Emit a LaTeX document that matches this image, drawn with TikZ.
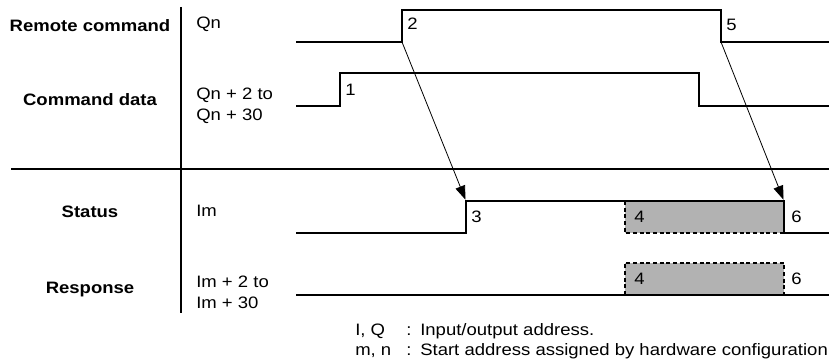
\documentclass[tikz,border=0pt]{standalone}
\usepackage{fontspec}
\setmainfont{Liberation Sans}[FakeStretch=1.12]
\usetikzlibrary{arrows.meta}

\begin{document}
\begin{tikzpicture}[x=0.75pt,y=-0.75pt,
  wave/.style={line width=1.35pt},
  rule/.style={line width=1.35pt},
  signame/.style={font=\bfseries,anchor=base,inner sep=0pt},
  addr/.style={anchor=base west,inner sep=0pt},
  tick/.style={anchor=base west,inner sep=0pt},
  cue/.style={line width=0.6pt,shorten >=1pt,-{Triangle[length=10.5pt,width=7.5pt]}},
  busyfill/.style={fill=black!30},
  busyedge/.style={line width=1pt,dash pattern=on 3pt off 2pt}]
\useasboundingbox (0,0) rectangle (834,363);
\fontsize{12.4}{15}\selectfont
% Table rules
\draw[rule] (181,7) -- (181,313);
\draw[rule] (11,169) -- (829,169);
% Signal names
\node[signame] (rq) at (90,32) {Remote command};
\node[signame] (cd) at (90,106) {Command data};
\node[signame] (st) at (90,218) {Status};
\node[signame] (rs) at (90,293) {Response};
% Addresses
\node[addr] (rq-addr) at (196,29) {Qn};
\node[addr] (cd-addr) at (196,100) {Qn + 2 to};
\node[addr] (cd-addr2) at (196,121) {Qn + 30};
\node[addr] (st-addr) at (196,216) {Im};
\node[addr] (rs-addr) at (196,287) {Im + 2 to};
\node[addr] (rs-addr2) at (196,308) {Im + 30};
% Busy areas
\fill[busyfill] (625,201) rectangle (784,233);
\fill[busyfill] (625,263) rectangle (784,295);
\draw[busyedge] (625,201) -- (625,233) -- (784,233);
\draw[busyedge] (625,295) -- (625,263) -- (784,263) -- (784,295);
% Waveforms
\draw[wave] (296,42) -- (402,42) -- (402,10) -- (721,10) -- (721,42) -- (829,42);
\draw[wave] (296,106) -- (340,106) -- (340,73) -- (699,73) -- (699,106) -- (829,106);
\draw[wave] (296,233) -- (466,233) -- (466,201) -- (784,201) -- (784,233) -- (829,233);
\draw[wave] (296,295) -- (829,295);
% Edge corners
\coordinate (rq-on) at (402,42);
\coordinate (rq-off) at (721,42);
\coordinate (st-on) at (466,201);
\coordinate (st-off) at (784,201);
\draw[cue] (rq-on) -- (st-on);
\draw[cue] (rq-off) -- (st-off);
% Step numbers
\node[tick] (n1) at (345,96) {1};
\node[tick] (n2) at (407,30) {2};
\node[tick] (n3) at (471,223) {3};
\node[tick] (n4) at (634,223) {4};
\node[tick] (n5) at (726,31) {5};
\node[tick] (n6) at (791,223) {6};
\node[tick] (n4b) at (634,284) {4};
\node[tick] (n6b) at (791,284) {6};
% Legend
\node[addr] (key1) at (355,335) {I, Q};
\node[addr] (col1) at (406,335) {:};
\node[addr] (txt1) at (420,335) {Input/output address.};
\node[addr] (key2) at (355,355) {m, n};
\node[addr] (col2) at (406,355) {:};
\node[addr] (txt2) at (420,355) {Start address assigned by hardware configuration};
\end{tikzpicture}
\end{document}
